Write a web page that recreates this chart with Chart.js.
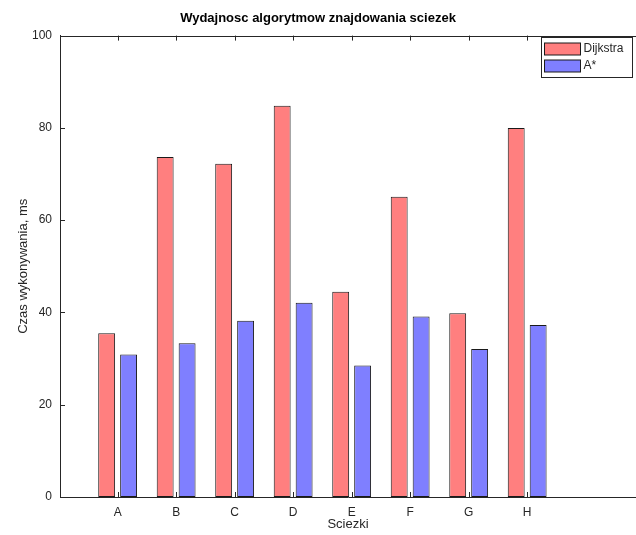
<!DOCTYPE html>
<html>
<head>
<meta charset="utf-8">
<script src="https://cdn.jsdelivr.net/npm/chart.js@4"></script>
<style>
  html, body { margin: 0; padding: 0; background: #fff; }
  #wrap { width: 636px; height: 535px; }
</style>
</head>
<body>
<div id="wrap"><canvas id="chart" width="636" height="535"></canvas></div>
<script>
  // chart values
  const categories = ['A', 'B', 'C', 'D', 'E', 'F', 'G', 'H'];
  const dijkstra = [35.5, 73.7, 72.2, 84.8, 44.5, 65.1, 39.8, 80.0];
  const aStar = [30.9, 33.3, 38.2, 42.1, 28.5, 39.1, 32.1, 37.3];
  const yTicks = [0, 20, 40, 60, 80, 100];

  const AXIS = '#262626';
  const FONT = "'Liberation Sans', Helvetica, Arial, sans-serif";

  function toPoints(values) {
    return values.map(function (v, i) { return { x: i + 1, y: v }; });
  }

  // inward ticks + top frame line, like the Octave axes box
  const axesBox = {
    id: 'axesBox',
    afterDraw: function (chart) {
      const ctx = chart.ctx;
      const a = chart.chartArea;
      const xs = chart.scales.x;
      const ys = chart.scales.y;
      ctx.save();
      ctx.strokeStyle = AXIS;
      ctx.lineWidth = 1;
      ctx.beginPath();
      ctx.moveTo(a.left, Math.round(a.top) + 0.5);
      ctx.lineTo(chart.width, Math.round(a.top) + 0.5);
      categories.forEach(function (c, i) {
        const px = Math.round(xs.getPixelForValue(i + 1)) + 0.5;
        ctx.moveTo(px, a.top);
        ctx.lineTo(px, a.top + 5);
        ctx.moveTo(px, a.bottom);
        ctx.lineTo(px, a.bottom - 5);
      });
      yTicks.forEach(function (t) {
        const py = Math.round(ys.getPixelForValue(t)) + 0.5;
        ctx.moveTo(a.left, py);
        ctx.lineTo(a.left + 5, py);
      });
      ctx.stroke();
      ctx.restore();
    }
  };

  // boxed legend in the top right corner
  const boxLegend = {
    id: 'boxLegend',
    afterDraw: function (chart) {
      const ctx = chart.ctx;
      const sets = chart.data.datasets;
      const x0 = 541.5, y0 = 37.5, w = 91, rowH = 17;
      ctx.save();
      ctx.fillStyle = '#fff';
      ctx.fillRect(x0, y0, w, 40);
      ctx.strokeStyle = AXIS;
      ctx.lineWidth = 1;
      ctx.strokeRect(x0, y0, w, 40);
      ctx.font = '12px ' + FONT;
      ctx.textBaseline = 'middle';
      sets.forEach(function (ds, i) {
        const cy = y0 + 11.5 + i * rowH;
        ctx.fillStyle = ds.backgroundColor;
        ctx.fillRect(x0 + 3, cy - 6, 36, 12);
        ctx.strokeStyle = ds.borderColor;
        ctx.strokeRect(x0 + 3, cy - 6, 36, 12);
        ctx.fillStyle = AXIS;
        ctx.fillText(ds.label, x0 + 42, cy);
      });
      ctx.restore();
    }
  };

  new Chart(document.getElementById('chart'), {
    type: 'bar',
    data: {
      datasets: [
        {
          label: 'Dijkstra',
          data: toPoints(dijkstra),
          backgroundColor: '#ff7f7f',
          borderColor: '#1a1a1a',
          borderWidth: 1,
          borderSkipped: false,
          categoryPercentage: 0.75,
          barPercentage: 0.77
        },
        {
          label: 'A*',
          data: toPoints(aStar),
          backgroundColor: '#7f7fff',
          borderColor: '#1a1a1a',
          borderWidth: 1,
          borderSkipped: false,
          categoryPercentage: 0.75,
          barPercentage: 0.77
        }
      ]
    },
    options: {
      responsive: false,
      animation: false,
      layout: { padding: { left: 0, right: 0, top: 0, bottom: 0 } },
      plugins: {
        legend: { display: false },
        tooltip: { enabled: false },
        title: {
          display: true,
          text: 'Wydajnosc algorytmow znajdowania sciezek',
          color: '#000',
          font: { family: FONT, size: 13, weight: 'bold' },
          padding: { top: 11, bottom: 9 }
        }
      },
      scales: {
        x: {
          type: 'linear',
          min: 0.015,
          max: 9.86,
          offset: false,
          grid: { display: false, drawTicks: false },
          border: { display: true, color: AXIS, width: 1 },
          ticks: {
            stepSize: 1,
            includeBounds: false,
            autoSkip: false,
            maxRotation: 0,
            padding: 8,
            color: AXIS,
            font: { family: FONT, size: 12 },
            callback: function (value) {
              return categories[value - 1] || '';
            }
          },
          title: {
            display: true,
            text: 'Sciezki',
            color: AXIS,
            font: { family: FONT, size: 13 },
            padding: { top: 0, bottom: 3 }
          },
          afterFit: function (scale) {
            scale.height = 38;
            scale.paddingRight = 0;
          }
        },
        y: {
          min: 0,
          max: 100,
          grid: { display: false, drawTicks: false },
          border: { display: true, color: AXIS, width: 1 },
          ticks: {
            stepSize: 20,
            padding: 8,
            color: AXIS,
            font: { family: FONT, size: 12 }
          },
          title: {
            display: true,
            text: 'Czas wykonywania, ms',
            color: AXIS,
            font: { family: FONT, size: 13 },
            padding: { top: 16, bottom: 0 }
          },
          afterFit: function (scale) { scale.width = 60; }
        }
      }
    },
    plugins: [axesBox, boxLegend]
  });
</script>
</body>
</html>
